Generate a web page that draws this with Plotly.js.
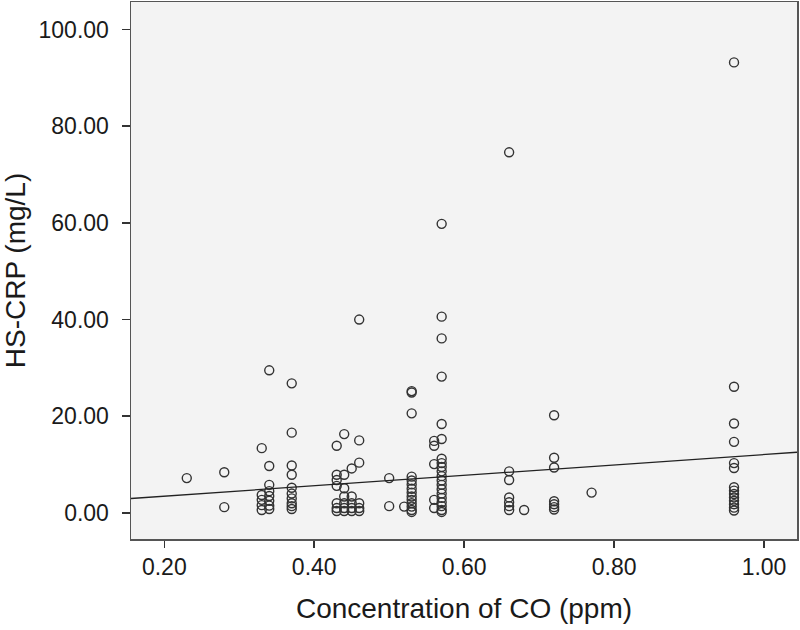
<!DOCTYPE html>
<html>
<head>
<meta charset="utf-8">
<script src="https://cdn.plot.ly/plotly-3.0.1.min.js"></script>
<style>html,body{margin:0;padding:0;background:#fff;}#chart{width:800px;height:630px;}</style>
</head>
<body>
<div id="chart"></div>
<script>
// CO concentration levels (ppm) and HS-CRP values (mg/L) observed at each level
const coLevels = [0.23, 0.28, 0.33, 0.34, 0.37, 0.43, 0.44, 0.45, 0.46, 0.50, 0.52, 0.53, 0.56, 0.57, 0.66, 0.68, 0.72, 0.77, 0.96];
const crp023 = [7.2];
const crp028 = [8.4, 1.2];
const crp033 = [13.4, 3.7, 2.7, 1.6, 0.6];
const crp034 = [29.5, 9.7, 5.8, 4.5, 3.5, 2.5, 1.5, 0.8];
const crp037 = [26.8, 16.6, 9.8, 7.9, 5.2, 4.0, 3.0, 2.0, 1.4, 0.8];
const crp043 = [13.9, 7.9, 6.8, 5.6, 2.0, 1.0, 0.4];
const crp044 = [16.3, 7.9, 5.1, 3.4, 2.0, 1.0, 0.4];
const crp045 = [9.2, 3.4, 2.0, 1.0, 0.4];
const crp046 = [40.0, 15.0, 10.4, 2.0, 1.0, 0.4];
const crp050 = [7.2, 1.4];
const crp052 = [1.3];
const crp053 = [25.2, 24.9, 20.6, 7.5, 6.7, 5.9, 5.0, 4.2, 3.4, 2.7, 2.0, 1.3, 0.6, 0.2];
const crp056 = [14.9, 13.9, 10.1, 2.7, 1.0];
const crp057 = [59.8, 40.6, 36.1, 28.2, 18.4, 15.3, 11.2, 10.3, 9.5, 8.6, 7.6, 6.7, 5.8, 4.9, 4.0, 3.1, 2.2, 1.4, 0.6, 0.2];
const crp066 = [74.6, 8.6, 6.8, 3.2, 2.2, 1.4, 0.6];
const crp068 = [0.6];
const crp072 = [20.2, 11.4, 9.4, 2.4, 1.8, 1.2, 0.7];
const crp077 = [4.2];
const crp096 = [93.2, 26.1, 18.5, 14.7, 10.3, 9.3, 5.3, 4.6, 3.9, 3.2, 2.5, 1.8, 1.1, 0.5];
const crpByLevel = [crp023, crp028, crp033, crp034, crp037, crp043, crp044, crp045, crp046, crp050, crp052, crp053, crp056, crp057, crp066, crp068, crp072, crp077, crp096];

// Linear fit line endpoints
const fitCO = [0.1556, 1.044];
const fitCRP = [2.98, 12.55];

const xTicks = [0.2, 0.4, 0.6, 0.8, 1.0];
const yTicks = [0, 20, 40, 60, 80, 100];
const xTitle = 'Concentration of CO (ppm)';
const yTitle = 'HS-CRP (mg/L)';

const xs = [], ys = [];
coLevels.forEach((c, i) => crpByLevel[i].forEach(v => { xs.push(c); ys.push(v); }));

const font = {family: '"Liberation Sans", Arial, Helvetica, sans-serif', color: '#1a1a1a'};

const traces = [
  {x: xs, y: ys, type: 'scatter', mode: 'markers',
   marker: {symbol: 'circle-open', size: 9, color: '#333', line: {width: 1.4, color: '#333'}},
   hoverinfo: 'x+y', showlegend: false},
  {x: fitCO, y: fitCRP, type: 'scatter', mode: 'lines',
   line: {color: '#222', width: 1.3}, hoverinfo: 'skip', showlegend: false}
];

const layout = {
  width: 800, height: 630,
  margin: {l: 131, r: 3, t: 2, b: 91, pad: 0},
  paper_bgcolor: '#ffffff',
  plot_bgcolor: '#f3f3f3',
  font: Object.assign({size: 23}, font),
  showlegend: false,
  xaxis: {
    range: [0.1556, 1.044], tickvals: xTicks, tickformat: '.2f',
    ticks: 'outside', ticklen: 7, tickwidth: 1.5, tickcolor: '#333',
    showline: true, mirror: true, linecolor: '#555', linewidth: 1.5,
    showgrid: false, zeroline: false,
    tickfont: Object.assign({size: 23}, font),
    title: {text: xTitle, font: Object.assign({size: 28}, font), standoff: 19}
  },
  yaxis: {
    range: [-5.4, 105.7], tickvals: yTicks, tickformat: '.2f',
    ticks: 'outside', ticklen: 8, tickwidth: 1.5, tickcolor: '#333',
    showline: true, mirror: true, linecolor: '#555', linewidth: 1.5,
    showgrid: false, zeroline: false,
    ticklabelstandoff: 8,
    tickfont: Object.assign({size: 23}, font),
    title: {text: yTitle, font: Object.assign({size: 28}, font), standoff: 15}
  }
};

Plotly.newPlot('chart', traces, layout, {displayModeBar: false, staticPlot: true});
</script>
</body>
</html>
